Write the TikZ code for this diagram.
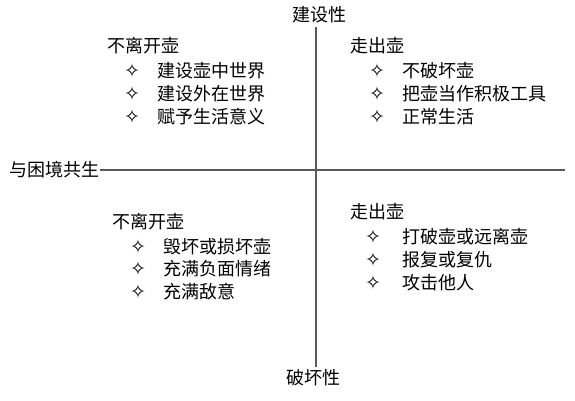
\documentclass[tikz,border=0pt]{standalone}
\usepackage{fontspec}
\setmainfont{Noto Sans CJK SC}
\newfontfamily\symfont{DejaVu Sans}
\usepackage{tikz}

\begin{document}
\begin{tikzpicture}[x=1pt,y=-1pt]
	\tikzstyle{txt}=[inner sep=0pt, font=\fontsize{18}{20}\selectfont]
	\tikzstyle{item}=[txt, anchor=west]
	\tikzstyle{bullet}=[inner sep=0pt, font=\symfont\fontsize{19}{20}\selectfont]
	\tikzstyle{axisline}=[draw=black!65, line width=1.1pt]
	\useasboundingbox (0,0) rectangle (575,401);
	% axes
	\node [txt] (pos) at (319,15) {建设性};
	\node [txt] (neg) at (313,378) {破坏性};
	\node [txt, anchor=east] (mid) at (100,170) {与困境共生};
	\coordinate (pend) at (565,170);
	\coordinate (ptop) at (316,27);
	\coordinate (pbot) at (316,367);
	\draw [axisline] (ptop) -- (pbot);
	\draw [axisline] (mid.east) -- (pend);
	% top left
	\node [item] (tlhead) at (107,46) {不离开壶};
	\node [bullet] (tlb1) at (132,71) {✧};
	\node [item] (tlt1) at (157,71) {建设壶中世界};
	\node [bullet] (tlb2) at (132,94) {✧};
	\node [item] (tlt2) at (157,94) {建设外在世界};
	\node [bullet] (tlb3) at (132,117) {✧};
	\node [item] (tlt3) at (157,117) {赋予生活意义};
	% top right
	\node [item] (trhead) at (350,46) {走出壶};
	\node [bullet] (trb1) at (377,71) {✧};
	\node [item] (trt1) at (402,71) {不破坏壶};
	\node [bullet] (trb2) at (377,94) {✧};
	\node [item] (trt2) at (402,94) {把壶当作积极工具};
	\node [bullet] (trb3) at (377,117) {✧};
	\node [item] (trt3) at (402,117) {正常生活};
	% bottom left
	\node [item] (blhead) at (112,222) {不离开壶};
	\node [bullet] (blb1) at (138,247) {✧};
	\node [item] (blt1) at (163,247) {毁坏或损坏壶};
	\node [bullet] (blb2) at (138,269) {✧};
	\node [item] (blt2) at (163,269) {充满负面情绪};
	\node [bullet] (blb3) at (138,292) {✧};
	\node [item] (blt3) at (163,292) {充满敌意};
	% bottom right
	\node [item] (brhead) at (350,212) {走出壶};
	\node [bullet] (brb1) at (373,237) {✧};
	\node [item] (brt1) at (402,237) {打破壶或远离壶};
	\node [bullet] (brb2) at (373,260) {✧};
	\node [item] (brt2) at (402,260) {报复或复仇};
	\node [bullet] (brb3) at (373,283) {✧};
	\node [item] (brt3) at (402,283) {攻击他人};
\end{tikzpicture}
\end{document}
